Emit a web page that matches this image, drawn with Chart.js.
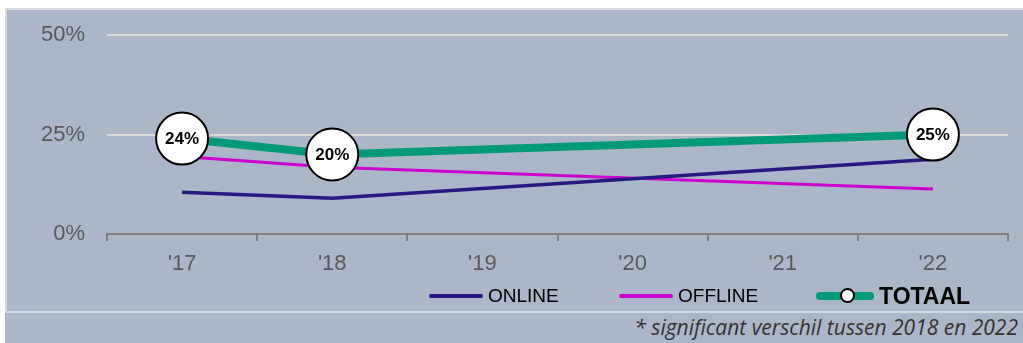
<!DOCTYPE html>
<html>
<head>
<meta charset="utf-8">
<script src="https://cdn.jsdelivr.net/npm/chart.js@4/dist/chart.umd.min.js"></script>
<style>
  html, body { margin: 0; padding: 0; background: #fff; }
  #wrap { position: relative; width: 1023px; height: 343px; overflow: hidden; }
  #panel { position: absolute; left: 5px; top: 8px; right: 0; bottom: 0;
           background: #abb6c9; border-left: 2px solid #d6d9de; border-top: 2px solid #d6d9de; }
  #foot { position: absolute; left: 5px; right: 0; top: 311px; bottom: 0;
          border-top: 2px solid #d3d9e2; background: #abb6c9; }
  #note { position: absolute; right: 5px; top: 0px; font-family: "Open Sans", sans-serif;
          font-style: italic; font-size: 21px; color: #333; white-space: nowrap; }
  canvas { position: absolute; left: 0; top: 0; }
  .lg { position: absolute; top: 285px; height: 22px; font-family: "Liberation Sans", Arial, sans-serif;
        color: #000; display: flex; align-items: center; white-space: nowrap; }
  .lg i { display: inline-block; margin-right: 5px; position: relative; }
</style>
</head>
<body>
<div id="wrap">
  <div id="panel"></div>
  <div id="foot"><div id="note">* significant verschil tussen 2018 en 2022</div></div>
  <canvas id="c" width="1023" height="343"></canvas>
  <div id="legend"></div>
</div>
<script>
  const years = ["'17", "'18", "'19", "'20", "'21", "'22"];
  const online = [10.5, 9, null, null, null, 18.8];
  const offline = [19.5, 16.8, null, null, null, 11.3];
  const totaal = [24, 20, null, null, null, 25];
  const yTicks = [0, 25, 50];

  //Legend
  const legendItems = [
    { name: 'ONLINE', color: '#261a80', left: 429, w: 54, h: 4, bold: false },
    { name: 'OFFLINE', color: '#cc00cc', left: 619, w: 54, h: 4, bold: false },
    { name: 'TOTAAL', color: '#009a7a', left: 816, w: 58, h: 8, bold: true }
  ];
  const legend = document.getElementById('legend');
  legendItems.forEach(it => {
    const d = document.createElement('div');
    d.className = 'lg';
    d.style.left = it.left + 'px';
    let mark = '<i style="width:' + it.w + 'px;height:' + it.h + 'px;background:' + it.color + ';border-radius:' + (it.h / 2) + 'px">';
    if (it.bold) {
      mark += '<b style="position:absolute;left:24px;top:-4px;border-radius:50%;background:#fff;border:2px solid #000;box-sizing:border-box;width:15px;height:15px"></b>';
    }
    mark += '</i>';
    d.innerHTML = mark + '<span style="' + (it.bold ? 'font-weight:bold;font-size:23px' : 'font-size:19px') + '">' + it.name + '</span>';
    legend.appendChild(d);
  });

  const pctLabels = {
    id: 'pctLabels',
    afterDatasetsDraw(chart) {
      const ctx = chart.ctx;
      const meta = chart.getDatasetMeta(0);
      ctx.save();
      ctx.font = 'bold 17px "Liberation Sans", Arial, sans-serif';
      ctx.fillStyle = '#000';
      ctx.textAlign = 'center';
      ctx.textBaseline = 'middle';
      meta.data.forEach((pt, i) => {
        if (totaal[i] == null) return;
        ctx.fillText(totaal[i] + '%', pt.x, pt.y + 1);
      });
      ctx.restore();
    }
  };

  const ctx = document.getElementById('c').getContext('2d');
  new Chart(ctx, {
    type: 'line',
    data: {
      labels: years,
      datasets: [{
        label: 'TOTAAL',
        data: totaal,
        borderColor: '#009a7a',
        borderWidth: 8,
        pointRadius: 26,
        pointBackgroundColor: '#fff',
        pointBorderColor: '#000',
        pointBorderWidth: 2,
        spanGaps: true,
        order: 0
      },
      {
        label: 'ONLINE',
        data: online,
        borderColor: '#261a80',
        borderWidth: 3.5,
        pointRadius: 0,
        spanGaps: true,
        order: 1
      },
      {
        label: 'OFFLINE',
        data: offline,
        borderColor: '#cc00cc',
        borderWidth: 3,
        pointRadius: 0,
        spanGaps: true,
        order: 2
      }]
    },
    options: {
      responsive: false,
      animation: false,
      layout: { autoPadding: false, padding: { top: 33, right: 15, left: 0, bottom: 0 } },
      plugins: { legend: { display: false }, tooltip: { enabled: false } },
      scales: {
        x: {
          offset: true,
          afterFit: s => { s.height = 109; s.paddingLeft = 0; s.paddingRight = 0; },
          grid: { offset: true, drawOnChartArea: false, drawTicks: true, tickLength: 7, color: '#808080', lineWidth: 2 },
          border: { color: '#808080', width: 2 },
          ticks: { color: '#595959', padding: 10, font: { size: 22, family: '"Liberation Sans", Arial, sans-serif' } }
        },
        y: {
          min: 0, max: 50,
          afterFit: s => { s.width = 107; },
          afterBuildTicks: s => { s.ticks = yTicks.map(v => ({ value: v })); },
          grid: { color: '#d9d9d9', lineWidth: 2, drawTicks: false },
          border: { display: false },
          ticks: { color: '#595959', padding: 22, callback: v => v + '%', font: { size: 22, family: '"Liberation Sans", Arial, sans-serif' } }
        }
      }
    },
    plugins: [pctLabels]
  });
</script>
</body>
</html>
